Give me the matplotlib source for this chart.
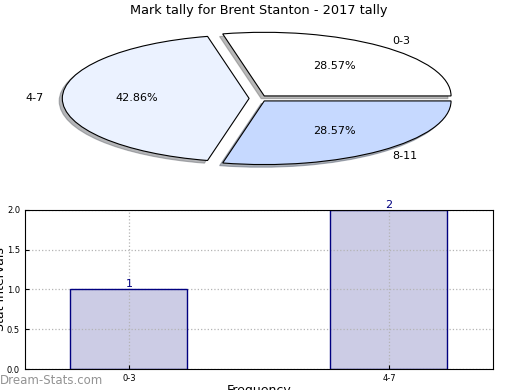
import matplotlib
matplotlib.use('Agg')
import matplotlib.pyplot as plt

# pie data
pie_labels = ['0-3', '4-7', '8-11']
pie_counts = [2, 3, 2]
pie_colors = ['#ffffff', '#ebf2ff', '#c6d9ff']

# bar data
bar_labels = ['0-3', '4-7']
bar_values = [1, 2]

fig = plt.figure(figsize=(5.2, 3.9), dpi=100)

# top: squashed pie
ax1 = fig.add_axes([0.048, 0.5436, 0.898, 0.408])
patches, texts, autotexts = ax1.pie(pie_counts, labels=pie_labels, colors=pie_colors,
                                    explode=[0.05, 0.05, 0.05],
                                    shadow={'ox': -0.012, 'oy': -0.03, 'shade': 0.55},
                                    autopct='%1.2f%%', startangle=0,
                                    wedgeprops={'edgecolor': 'black', 'linewidth': 0.8},
                                    textprops={'fontsize': 8})
ax1.set_aspect('auto')
ax1.set_xlim(-1.25, 1.25)
ax1.set_ylim(-1.25, 1.25)
ax1.set_title('Mark tally for Brent Stanton - 2017 tally', fontsize=9.3, pad=3.5)

# bottom: bar chart
ax2 = fig.add_axes([0.048, 0.0538, 0.9, 0.408])
xpos = list(range(len(bar_values)))
# fill below grid, outline above it
ax2.bar(xpos, bar_values, width=0.45, color='#ccccE5', linewidth=0, zorder=1)
ax2.bar(xpos, bar_values, width=0.45, fill=False, edgecolor='#000080', linewidth=1, zorder=4)
for x, v in zip(xpos, bar_values):
    ax2.text(x, v, str(v), ha='center', va='bottom', color='#000080', fontsize=8,
             clip_on=False, zorder=6)
ax2.set_xlim(-0.4, 1.4)
ax2.set_ylim(0, 2)
ax2.set_xticks(xpos)
ax2.set_xticklabels(bar_labels)
ax2.set_yticks([0.0, 0.5, 1.0, 1.5, 2.0])
ax2.set_yticklabels(['0.0', '0.5', '1.0', '1.5', '2.0'])
ax2.tick_params(labelsize=6, direction='in', length=3)
ax2.grid(True, linestyle=':', color='#b4b4b4', linewidth=0.9)
ax2.set_axisbelow(False)
for sp in ax2.spines.values():
    sp.set_zorder(5)
ax2.set_ylabel('Stat Intervals', fontsize=9)
ax2.yaxis.set_label_coords(-0.038, 0.5)
ax2.set_xlabel('Frequency', fontsize=9)
ax2.xaxis.set_label_coords(0.5, -0.093)

# watermark
fig.text(0.0, 0.025, 'Dream-Stats.com', fontsize=8.5, color='#939393', ha='left', va='center')

fig.savefig('out.png', dpi=100)
